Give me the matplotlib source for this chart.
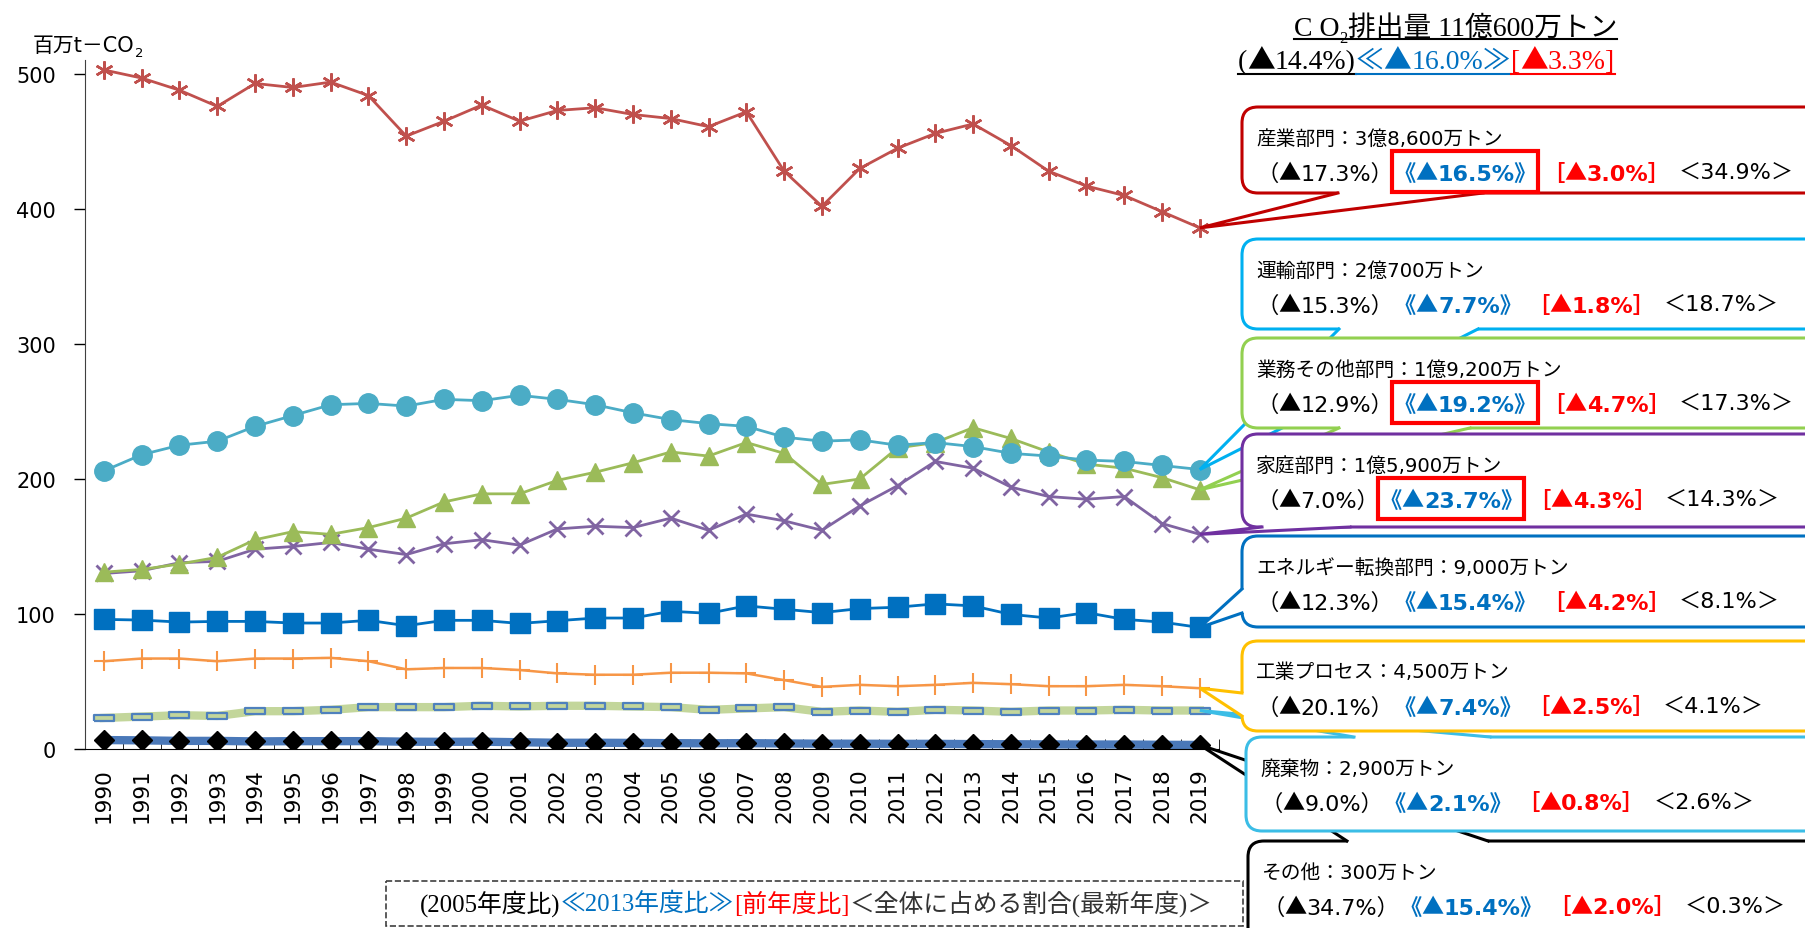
import re
import numpy as np
import matplotlib
matplotlib.use('Agg')
import matplotlib.pyplot as plt
from matplotlib.patches import FancyBboxPatch, Polygon, Rectangle

plt.rcParams['font.family'] = ['DejaVu Sans', 'Noto Sans CJK JP']
SERIF = ['Liberation Serif', 'Noto Sans CJK JP']
CJK = ['Noto Sans CJK JP', 'DejaVu Sans']

# 部門別CO2排出量（百万t-CO2）
years = list(range(1990, 2020))
industry = [503, 497, 488, 476, 493, 490, 494, 484, 454, 465, 477, 465, 473, 475, 470,
            467, 461, 472, 428, 402, 430, 445, 456, 463, 447, 428, 417, 410, 398, 386]
transport = [206, 218, 225, 228, 239, 247, 255, 256, 254, 259, 258, 262, 259, 255, 249,
             244, 241, 239, 231, 228, 229, 225, 227, 224, 219, 217, 214, 213, 210, 207]
commercial = [131, 133, 137, 142, 155, 161, 159, 164, 171, 183, 189, 189, 199, 205, 212,
              220, 217, 227, 219, 196, 200, 223, 227, 238, 230, 220, 211, 208, 201, 192]
household = [130, 132, 138, 139, 148, 150, 153, 148, 144, 152, 155, 151, 163, 165, 164,
             171, 162, 174, 169, 162, 180, 195, 213, 208, 194, 187, 185, 187, 167, 159]
energy = [96, 95.5, 94, 94.5, 94.5, 93.3, 93.3, 95.3, 91.3, 95.3, 95.3, 93, 95, 97, 97,
          102, 100.5, 106, 103.5, 101, 104, 105, 107.5, 106, 99.7, 97, 101, 96, 94, 90]
process = [65, 67, 67, 65, 67, 67, 67.5, 65, 59, 60, 60, 58.5, 56, 55, 55,
           56.5, 56.5, 56, 51, 46, 47.5, 46.5, 47.5, 49, 48, 46.5, 46.5, 47.5, 46.5, 45]
waste = [23, 24, 25, 24.5, 28, 28, 29, 31, 31, 31, 32, 31.5, 32, 32, 31.5,
         31, 29, 30, 31, 27.5, 28.5, 27.5, 29, 28.5, 27.5, 28.5, 28.5, 29, 28.5, 28.5]
other = [6.6, 6.4, 6.0, 6.0, 5.6, 5.8, 5.8, 5.8, 5.4, 5.3, 5.4, 5.0, 4.6, 4.6, 4.5,
         4.3, 4.2, 4.3, 4.1, 3.9, 3.9, 3.8, 3.8, 3.6, 3.5, 3.4, 3.3, 3.3, 3.1, 3.0]

# 吹き出しの文言
names = ['産業部門：3億8,600万トン', '運輸部門：2億700万トン', '業務その他部門：1億9,200万トン',
         '家庭部門：1億5,900万トン', 'エネルギー転換部門：9,000万トン', '工業プロセス：4,500万トン',
         '廃棄物：2,900万トン', 'その他：300万トン']
vs2005 = ['（▲17.3%）', '（▲15.3%）', '（▲12.9%）', '（▲7.0%）', '（▲12.3%）', '（▲20.1%）', '（▲9.0%）', '（▲34.7%）']
vs2013 = ['《▲16.5%》', '《▲7.7%》', '《▲19.2%》', '《▲23.7%》', '《▲15.4%》', '《▲7.4%》', '《▲2.1%》', '《▲15.4%》']
vsprev = ['［▲3.0%］', '［▲1.8%］', '［▲4.7%］', '［▲4.3%］', '［▲4.2%］', '［▲2.5%］', '［▲0.8%］', '［▲2.0%］']
shares = ['＜34.9%＞', '＜18.7%＞', '＜17.3%＞', '＜14.3%＞', '＜8.1%＞', '＜4.1%＞', '＜2.6%＞', '＜0.3%＞']
highlight = [True, False, True, True, False, False, False, False]

BLUE = '#0070c0'
RED = '#ff0000'

fig = plt.figure(figsize=(18.05, 9.29), dpi=100)
ax = fig.add_axes([0.0471, 0.1927, 0.6281, 0.7411])
x = np.arange(len(years))

rect = [(-1, -0.33), (1, -0.33), (1, 0.33), (-1, 0.33), (-1, -0.33)]
ax.plot(x, other, color='#4a78b8', lw=6, solid_capstyle='butt', zorder=2)
ax.plot(x, other, ls='none', marker='D', ms=10, color='black', zorder=3)
ax.plot(x, waste, color='#c3d69b', lw=6, marker=rect, ms=15, mfc='#c3d69b', mec='#4f81bd', mew=1.6, zorder=2)
ax.plot(x, process, color='#f79646', lw=1.8, marker='+', ms=15, mew=1.5, zorder=3)
ax.plot(x, energy, color='#0070c0', lw=2, marker='s', ms=14, zorder=3)
ax.plot(x, household, color='#8064a2', lw=2, marker='x', ms=12, mew=2, zorder=3)
ax.plot(x, commercial, color='#9bbb59', lw=2, marker='^', ms=13, zorder=3)
ax.plot(x, transport, color='#4bacc6', lw=2, marker='o', ms=14, zorder=4)
ax.plot(x, industry, color='#c0504d', lw=2, marker=(6, 2, 0), ms=13, mew=1.8, zorder=3)

ax.set_xlim(-0.5, 29.5)
ax.set_ylim(0, 510)
ax.set_yticks(range(0, 501, 100))
ax.tick_params(axis='y', labelsize=15, length=8, pad=13, width=1)
ax.set_xticks(x)
ax.set_xticklabels(years, rotation=90, fontsize=15.5)
ax.tick_params(axis='x', which='major', length=0, pad=13)
ax.set_xticks(np.arange(-0.5, 30, 1), minor=True)
ax.tick_params(axis='x', which='minor', direction='in', length=7)
for s in ['top', 'right']:
    ax.spines[s].set_visible(False)
ax.spines['left'].set_color('#404040')

# 注記用のピクセル座標レイヤー
ov = fig.add_axes([0, 0, 1, 1])
ov.set_xlim(0, 1805)
ov.set_ylim(929, 0)
ov.axis('off')
ov.set_zorder(5)

rend = fig.canvas.get_renderer()
inv = ov.transData.inverted()


def bbox_of(t):
    bb = t.get_window_extent(rend)
    (x0, y0), (x1, y1) = inv.transform([[bb.x0, bb.y0], [bb.x1, bb.y1]])
    return x0, x1, min(y0, y1), max(y0, y1)


def write(x0, y, items, size, z=50, va='baseline', family=None):
    # 色・太さごとに並べて描く。▲は全角のCJKフォントで描く
    out = []
    xx = x0
    for it in items:
        if it[0] is None:
            xx += it[1]
            continue
        s, color, bold = it[:3]
        fs = it[3] if len(it) > 3 else size
        dy = it[4] if len(it) > 4 else 0
        ts = []
        for run in re.split('(▲)', s):
            if not run:
                continue
            fam = CJK if run == '▲' else family
            kw = {'family': fam} if fam else {}
            t = ov.text(xx, y + dy, run, color=color, fontsize=fs, va=va, ha='left',
                        fontweight='bold' if bold else 'normal', zorder=z, **kw)
            ts.append(t)
            xx = bbox_of(t)[1]
        bs = [bbox_of(t) for t in ts]
        out.append((ts, (bs[0][0], bs[-1][1], min(b[2] for b in bs), max(b[3] for b in bs))))
    return out


def to_ov(i, v):
    return inv.transform(ax.transData.transform((i, v)))


# 軸単位
write(33, 52, [('百万t－CO', 'black', False), ('2', 'black', False, 9.5, 5)], 15)

# タイトル
t1 = write(1294, 36, [('C O', 'black', False), ('2', 'black', False, 12, 7),
                      ('排出量 11億600万トン', 'black', False)], 20, family=SERIF)
ov.plot([t1[0][1][0], t1[-1][1][1]], [40, 40], color='black', lw=1.5)
t2 = write(1238, 69, [('(▲14.4%)', 'black', False), ('≪▲16.0%≫', BLUE, False),
                      ('[▲3.3%]', RED, False)], 20, family=SERIF)
for (t, b), c in zip(t2, ['black', BLUE, RED]):
    ov.plot([b[0], b[1]], [75, 75], color=c, lw=1.5)

# 吹き出し
boxes = [
    # top, bottom, left, edge color, side, base, series
    (108, 194, 1242, '#c00000', 'bottom', (1338, 1483), industry),
    (240, 330, 1242, '#00b0f0', 'bottom', (1339, 1478), transport),
    (339, 429, 1242, '#92d050', 'bottom', (1339, 1470), commercial),
    (435, 528, 1242, '#7030a0', 'bottom', (1262, 1350), household),
    (537, 628, 1242, '#0070c0', 'left', (590, 614), energy),
    (842, 960, 1248, '#000000', 'top', (1347, 1488), other),
    (738, 832, 1246, '#3bbde6', 'top', (1354, 1490), waste),
    (642, 732, 1242, '#ffc000', 'left', (694, 717), process),
]
order = [0, 1, 2, 3, 4, 7, 6, 5]
for k, (top, bot, left, ec, side, (a, b), series) in enumerate(boxes):
    i = order[k]
    z = 10 + k * 5
    ov.add_patch(FancyBboxPatch((left, top), 1840 - left, bot - top,
                                boxstyle='round,pad=0,rounding_size=16',
                                fc='white', ec=ec, lw=2.2, zorder=z))
    tip = tuple(to_ov(29, series[-1]))
    if side == 'bottom':
        pts = [(a, bot - 4), (a, bot), tip, (b, bot), (b, bot - 4)]
        edge = [(a, bot), tip, (b, bot)]
    elif side == 'top':
        pts = [(a, top + 4), (a, top), tip, (b, top), (b, top + 4)]
        edge = [(a, top), tip, (b, top)]
    else:
        pts = [(left + 4, a), (left, a), tip, (left, b), (left + 4, b)]
        edge = [(left, a), tip, (left, b)]
    ov.add_patch(Polygon(pts, closed=True, fc='white', ec='none', zorder=z + 1))
    ex, ey = zip(*edge)
    ov.plot(ex, ey, color=ec, lw=2.2, zorder=z + 2, solid_joinstyle='miter')

    tx = left + 14
    ov.text(tx, top + 31, names[i], fontsize=14.2, va='center', ha='left', zorder=z + 3)
    parts = write(tx, top + 66, [(vs2005[i], 'black', False), (vs2013[i], BLUE, True),
                                 (None, 5), (vsprev[i], RED, True), (None, 8),
                                 (shares[i], 'black', False)], 16, z=z + 3, va='center')
    if highlight[i]:
        bx0, bx1, _, _ = parts[1][1]
        ov.add_patch(Rectangle((bx0 - 1, top + 44), bx1 - bx0 + 2, 41, fill=False,
                               ec=RED, lw=3, zorder=z + 4))

# 凡例の説明（枠の幅に合わせて文字サイズを決める）
leg_items = [('(2005年度比)', 'black', False), ('≪2013年度比≫', BLUE, False),
             ('[前年度比]', RED, False), ('＜全体に占める割合(最新年度)＞', '#333333', False)]
leg = write(0, 904, leg_items, 15, va='center', family=SERIF)
w = leg[-1][1][1] - leg[0][1][0]
for ts, b in leg:
    for t in ts:
        t.remove()
fs = 15 * 795 / w
leg = write(0, 904, leg_items, fs, va='center', family=SERIF)
w = leg[-1][1][1] - leg[0][1][0]
shift = 816 - w / 2 - leg[0][1][0]
for ts, b in leg:
    for t in ts:
        t.set_x(t.get_position()[0] + shift)
ov.add_patch(Rectangle((386, 882), 857, 45, fill=False, ls='--', ec='#404040', lw=1.2))

fig.savefig('out.png', dpi=100)
